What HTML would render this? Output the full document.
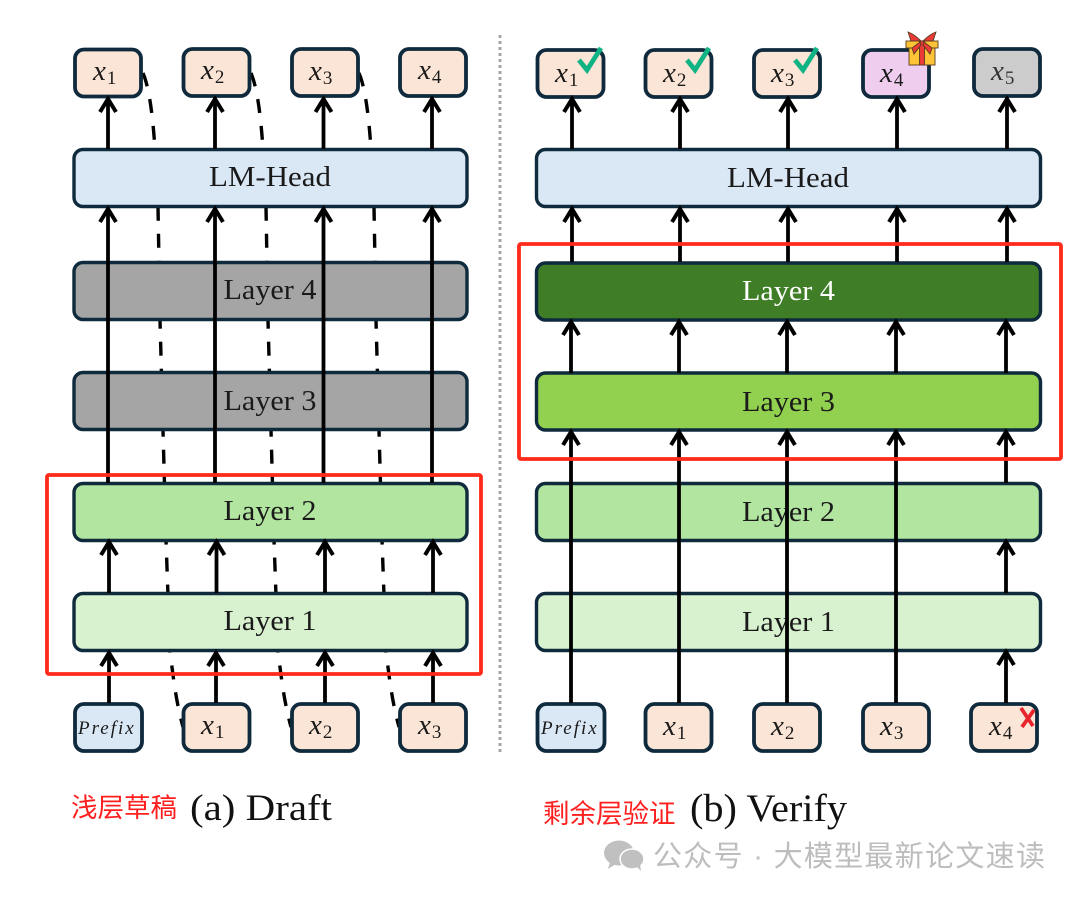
<!DOCTYPE html>
<html><head><meta charset="utf-8"><style>
html,body{margin:0;padding:0;background:#fff}
svg{display:block}
.b{stroke:#0e2a3c;stroke-width:3.800}
.l{stroke:#0e2a3c;stroke-width:3.400}
.w{fill:none;stroke:#000;stroke-width:3.800}
.d{fill:none;stroke:#000;stroke-width:3.400;stroke-dasharray:14 13}
.t{font-family:"Liberation Serif",serif;font-size:29px;fill:#1a1a1a;text-anchor:middle}
.m{font-family:"Liberation Serif",serif;font-size:29px;fill:#1a1a1a}
.m tspan.i{font-style:italic}
.m tspan.s{font-size:19px}
.r{font-family:"Liberation Sans","Noto Sans CJK SC",sans-serif;fill:#ff1f1f}
.c{font-family:"Liberation Serif",serif;fill:#111}
.p{font:italic 19px "Liberation Serif",serif;letter-spacing:2px;fill:#1a1a1a}
</style></head><body>
<svg width="1080" height="898" viewBox="0 0 1080 898" xmlns="http://www.w3.org/2000/svg">
<defs><marker id="a" markerUnits="userSpaceOnUse" markerWidth="30" markerHeight="30" viewBox="-15 -15 30 30" refX="1" refY="0" orient="auto"><path d="M-13 -8L0 0L-13 8" fill="none" stroke="#000" stroke-width="4"/></marker></defs>
<rect width="1080" height="898" fill="#fff"/>
<line x1="500" y1="35" x2="500" y2="752" stroke="#a5a5a5" stroke-width="3" stroke-dasharray="3 3"/>

<!-- dashed skip curves left -->
<path class="d" d="M143 73C150 90 153 120 155 149L158 207L160 320L163 430L166 540L170 651C174 685 177 705 183 727"/>
<path class="d" d="M251 73C258 90 261 120 263 149L266 207L268 320L271 430L274 540L278 651C282 685 285 705 291 727"/>
<path class="d" d="M359 73C366 90 369 120 371 149L374 207L376 320L379 430L382 540L386 651C390 685 393 705 399 727"/>

<!-- left boxes -->
<g class="b">
<rect x="75" y="49.500" width="66" height="47" rx="9" fill="#fbe5d6"/>
<rect x="183.500" y="49" width="66" height="47" rx="9" fill="#fbe5d6"/>
<rect x="292" y="49" width="66" height="47" rx="9" fill="#fbe5d6"/>
<rect x="400" y="49" width="66" height="47" rx="9" fill="#fbe5d6"/>
<rect x="75" y="704" width="67" height="47" rx="9" fill="#dae8f6"/>
<rect x="183.500" y="704" width="66" height="47" rx="9" fill="#fbe5d6"/>
<rect x="292" y="704" width="66" height="47" rx="9" fill="#fbe5d6"/>
<rect x="400" y="704" width="66" height="47" rx="9" fill="#fbe5d6"/>
</g>
<g class="l">
<rect x="74" y="149.500" width="393" height="57" rx="9" fill="#dae8f6"/>
<rect x="74" y="262.500" width="393" height="57" rx="9" fill="#a5a5a5"/>
<rect x="74" y="372.500" width="393" height="57" rx="9" fill="#a5a5a5"/>
<rect x="74" y="483.500" width="393" height="57" rx="9" fill="#b2e5a0"/>
<rect x="74" y="593.500" width="393" height="57" rx="9" fill="#d8f1cf"/>
</g>

<!-- left text -->
<text class="t" x="270" y="186" textLength="122" lengthAdjust="spacingAndGlyphs">LM-Head</text>
<text class="t" x="270" y="299" textLength="93" lengthAdjust="spacingAndGlyphs">Layer 4</text>
<text class="t" x="270" y="410" textLength="93" lengthAdjust="spacingAndGlyphs">Layer 3</text>
<text class="t" x="270" y="520" textLength="93" lengthAdjust="spacingAndGlyphs">Layer 2</text>
<text class="t" x="270" y="630" textLength="93" lengthAdjust="spacingAndGlyphs">Layer 1</text>

<!-- left arrows -->
<g class="w">
<path d="M108 149V98" marker-end="url(#a)"/><path d="M215 149V98" marker-end="url(#a)"/><path d="M323.500 149V98" marker-end="url(#a)"/><path d="M432 149V98" marker-end="url(#a)"/>
<path d="M108 483V208" marker-end="url(#a)"/><path d="M215 483V208" marker-end="url(#a)"/><path d="M323.500 483V208" marker-end="url(#a)"/><path d="M432 483V208" marker-end="url(#a)"/>
<path d="M109 593V541" marker-end="url(#a)"/><path d="M216.500 593V541" marker-end="url(#a)"/><path d="M325 593V541" marker-end="url(#a)"/><path d="M433 593V541" marker-end="url(#a)"/>
<path d="M109 703V652" marker-end="url(#a)"/><path d="M216 703V652" marker-end="url(#a)"/><path d="M325 703V652" marker-end="url(#a)"/><path d="M433 703V652" marker-end="url(#a)"/>
</g>

<!-- left math labels -->
<text class="m" x="93" y="80"><tspan class="i">x</tspan><tspan class="s" dy="4" dx="1">1</tspan></text>
<text class="m" x="201" y="79"><tspan class="i">x</tspan><tspan class="s" dy="4" dx="1">2</tspan></text>
<text class="m" x="309" y="80"><tspan class="i">x</tspan><tspan class="s" dy="4" dx="1">3</tspan></text>
<text class="m" x="418" y="79"><tspan class="i">x</tspan><tspan class="s" dy="4" dx="1">4</tspan></text>
<text class="p" x="78" y="734">Prefix</text>
<text class="m" x="201" y="734"><tspan class="i">x</tspan><tspan class="s" dy="4" dx="1">1</tspan></text>
<text class="m" x="309" y="734"><tspan class="i">x</tspan><tspan class="s" dy="4" dx="1">2</tspan></text>
<text class="m" x="418" y="734"><tspan class="i">x</tspan><tspan class="s" dy="4" dx="1">3</tspan></text>

<rect x="47" y="475" width="434" height="199" rx="2" fill="none" stroke="#ff2a1a" stroke-width="3.800"/>

<!-- right boxes -->
<g class="b">
<rect x="537.500" y="50" width="66" height="47" rx="9" fill="#fbe5d6"/>
<rect x="645.500" y="50" width="66" height="47" rx="9" fill="#fbe5d6"/>
<rect x="754" y="50" width="66" height="47" rx="9" fill="#fbe5d6"/>
<rect x="863" y="50" width="66" height="47" rx="9" fill="#eecdee"/>
<rect x="974" y="49" width="66" height="47" rx="9" fill="#cccccc"/>
<rect x="537.500" y="704" width="67" height="47" rx="9" fill="#dae8f6"/>
<rect x="645.500" y="704" width="66" height="47" rx="9" fill="#fbe5d6"/>
<rect x="754" y="704" width="66" height="47" rx="9" fill="#fbe5d6"/>
<rect x="863" y="704" width="66" height="47" rx="9" fill="#fbe5d6"/>
<rect x="971" y="704" width="66" height="47" rx="9" fill="#fbe5d6"/>
</g>
<g class="l">
<rect x="536.500" y="149.500" width="504" height="57" rx="9" fill="#dae8f6"/>
<rect x="536.500" y="263" width="504" height="57" rx="9" fill="#3f7e26"/>
<rect x="536.500" y="373" width="504" height="57" rx="9" fill="#92d14f"/>
<rect x="536.500" y="483.500" width="504" height="57" rx="9" fill="#b2e5a0"/>
<rect x="536.500" y="593.500" width="504" height="57" rx="9" fill="#d8f1cf"/>
</g>

<!-- right text -->
<text class="t" x="788" y="187" textLength="122" lengthAdjust="spacingAndGlyphs">LM-Head</text>
<text class="t" x="788.500" y="300" textLength="93" lengthAdjust="spacingAndGlyphs" style="fill:#fff">Layer 4</text>
<text class="t" x="788.500" y="411" textLength="93" lengthAdjust="spacingAndGlyphs">Layer 3</text>
<text class="t" x="788.500" y="521" textLength="93" lengthAdjust="spacingAndGlyphs">Layer 2</text>
<text class="t" x="788.500" y="631" textLength="93" lengthAdjust="spacingAndGlyphs">Layer 1</text>

<!-- right arrows -->
<g class="w">
<path d="M572 149V98" marker-end="url(#a)"/><path d="M680 149V98" marker-end="url(#a)"/><path d="M788 149V98" marker-end="url(#a)"/><path d="M897 149V98" marker-end="url(#a)"/><path d="M1007 149V98" marker-end="url(#a)"/>
<path d="M572 262V208" marker-end="url(#a)"/><path d="M680 262V208" marker-end="url(#a)"/><path d="M788 262V208" marker-end="url(#a)"/><path d="M897 262V208" marker-end="url(#a)"/><path d="M1007 262V208" marker-end="url(#a)"/>
<path d="M571 373V321" marker-end="url(#a)"/><path d="M679 373V321" marker-end="url(#a)"/><path d="M787 373V321" marker-end="url(#a)"/><path d="M896 373V321" marker-end="url(#a)"/><path d="M1006 373V321" marker-end="url(#a)"/>
<path d="M571 703V431" marker-end="url(#a)"/><path d="M679 703V431" marker-end="url(#a)"/><path d="M787 703V431" marker-end="url(#a)"/><path d="M896 703V431" marker-end="url(#a)"/>
<path d="M1006 483V431" marker-end="url(#a)"/><path d="M1006 593V541" marker-end="url(#a)"/><path d="M1006 703V651" marker-end="url(#a)"/>
</g>

<rect x="519" y="244" width="542" height="215" rx="2" fill="none" stroke="#ff2a1a" stroke-width="3.800"/>

<!-- right math labels -->
<text class="m" x="555" y="82"><tspan class="i">x</tspan><tspan class="s" dy="4" dx="1">1</tspan></text>
<text class="m" x="663" y="82"><tspan class="i">x</tspan><tspan class="s" dy="4" dx="1">2</tspan></text>
<text class="m" x="771" y="82"><tspan class="i">x</tspan><tspan class="s" dy="4" dx="1">3</tspan></text>
<text class="m" x="880" y="82"><tspan class="i">x</tspan><tspan class="s" dy="4" dx="1">4</tspan></text>
<text class="m" x="991" y="80" style="fill:#333"><tspan class="i">x</tspan><tspan class="s" dy="4" dx="1">5</tspan></text>
<text class="p" x="541" y="734">Prefix</text>
<text class="m" x="663" y="735"><tspan class="i">x</tspan><tspan class="s" dy="4" dx="1">1</tspan></text>
<text class="m" x="771" y="735"><tspan class="i">x</tspan><tspan class="s" dy="4" dx="1">2</tspan></text>
<text class="m" x="880" y="735"><tspan class="i">x</tspan><tspan class="s" dy="4" dx="1">3</tspan></text>
<text class="m" x="989" y="735"><tspan class="i">x</tspan><tspan class="s" dy="4" dx="1">4</tspan></text>

<!-- checks -->
<g fill="none" stroke="#10b384" stroke-width="4.800">
<path d="M579 60L587 70L601 48"/><path d="M687 60L695 70L709 48"/><path d="M795 60L803 70L817 48"/>
</g>
<!-- red x -->
<path d="M1021 708L1033 726M1034 710L1022 727" stroke="#e8242c" stroke-width="3.800" fill="none"/>

<!-- gift -->
<g stroke="#5a3a20" stroke-width=".9">
<rect x="909" y="47" width="26" height="18" fill="#fcc436"/>
<rect x="906" y="41" width="32" height="7" fill="#fcc436"/>
<rect x="919.500" y="41" width="5" height="24" fill="#ea3b36"/>
<path d="M921 41C916 36 911 33 908 32L911 41Z" fill="#ea3b36"/>
<path d="M923 41C928 36 933 33 936 32L933 41Z" fill="#ea3b36"/>
<path d="M920 42L912 48L914 54L921 45Z" fill="#ea3b36"/>
<path d="M924 42L932 48L930 54L923 45Z" fill="#ea3b36"/>
</g>

<!-- captions -->
<text class="r" x="71" y="817" font-size="26.500">浅层草稿</text>
<text class="c" x="190" y="820" font-size="37" textLength="142" lengthAdjust="spacingAndGlyphs">(a) Draft</text>
<text class="r" x="543" y="823" font-size="26.500">剩余层验证</text>
<text class="c" x="690" y="821" font-size="39" textLength="157" lengthAdjust="spacingAndGlyphs">(b) Verify</text>

<!-- watermark -->
<ellipse cx="619" cy="853" rx="15" ry="12.500" fill="#c0c0c0"/>
<path d="M610 862L608 869L616 864Z" fill="#c0c0c0"/>
<ellipse cx="632" cy="859" rx="12" ry="10" fill="#c0c0c0" stroke="#fff" stroke-width="1.500"/>
<path d="M637 867L641 871L640 864Z" fill="#c0c0c0"/>
<text x="653" y="866" font-size="29" style="font-family:'Liberation Sans','Noto Sans CJK SC',sans-serif;fill:#bdbdbd" textLength="392">公众号 · 大模型最新论文速读</text>
</svg>
</body></html>
